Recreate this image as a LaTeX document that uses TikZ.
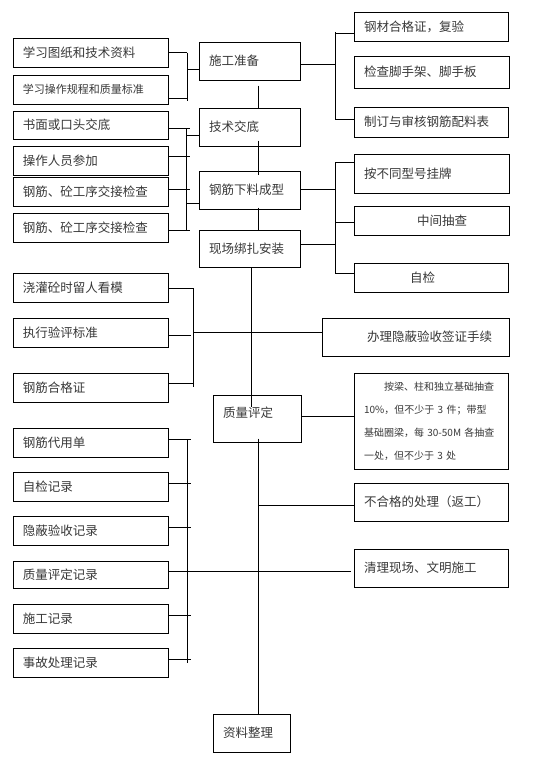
\documentclass[tikz,border=0pt]{standalone}
\usepackage{fontspec}
\setmainfont{Noto Sans CJK SC}
\usetikzlibrary{calc}
\newcommand{\mybox}[7][]{%
  \pgfmathsetmacro\mbW{#5-#3}%
  \pgfmathsetmacro\mbH{#6-#4}%
  \pgfmathsetmacro\mbX{(#3+#5)/2}%
  \pgfmathsetmacro\mbY{-(#4+#6)/2}%
  \pgfmathsetmacro\mbT{#5-#3-20}%
  \node[boxst, minimum width=\mbW pt, minimum height=\mbH pt, text width=\mbT pt, #1] (#2) at (\mbX pt,\mbY pt) {#7};%
}
\begin{document}
\begin{tikzpicture}[
  boxst/.style={draw=black, line width=1pt, align=left, inner xsep=10pt, inner ysep=0pt,
    font=\fontsize{12.5}{15}\selectfont, text=black!78},
  ln/.style={draw=black, line width=1pt}
]
\fill[white] (0,0) rectangle (554pt,-764pt);
\useasboundingbox (0,0) rectangle (554pt,-764pt);

% centre column
\mybox{s1}{199}{42}{300}{80}{施工准备}
\mybox{s2}{199}{108}{300}{146}{技术交底}
\mybox{s3}{199}{171}{300}{209}{钢筋下料成型}
\mybox{s4}{199}{230}{300}{267}{现场绑扎安装}
\mybox{s5}{213}{395}{301}{442}{\raisebox{13pt}{质量评定}}
\mybox{s6}{213}{714}{290}{752}{资料整理}

% left column
\mybox{l1}{13}{38}{168}{67}{学习图纸和技术资料}
\mybox[font=\fontsize{11}{13}\selectfont]{l2}{13}{75}{168}{104}{学习操作规程和质量标准}
\mybox{l3}{13}{111}{168}{139}{书面或口头交底}
\mybox{l4}{13}{146}{168}{175}{操作人员参加}
\mybox{l5}{13}{177}{168}{206}{钢筋、砼工序交接检查}
\mybox{l6}{13}{213}{168}{242}{钢筋、砼工序交接检查}
\mybox{l7}{13}{273}{168}{302}{浇灌砼时留人看模}
\mybox{l8}{13}{318}{168}{347}{执行验评标准}
\mybox{l9}{13}{373}{168}{402}{钢筋合格证}
\mybox{l10}{13}{428}{168}{457}{钢筋代用单}
\mybox{l11}{13}{472}{168}{501}{自检记录}
\mybox{l12}{13}{516}{168}{545}{隐蔽验收记录}
\mybox{l13}{13}{561}{168}{588}{质量评定记录}
\mybox{l14}{13}{604}{168}{633}{施工记录}
\mybox{l15}{13}{648}{168}{677}{事故处理记录}

% right column
\mybox{r1}{354}{12}{508}{41}{钢材合格证，复验}
\mybox{r2}{354}{56}{509}{88}{检查脚手架、脚手板}
\mybox{r3}{354}{107}{508}{137}{制订与审核钢筋配料表}
\mybox{r4}{354}{154}{509}{193}{按不同型号挂牌}
\mybox{r5}{354}{206}{509}{235}{\hspace*{53pt}中间抽查}
\mybox{r6}{354}{263}{508}{292}{\hspace*{46pt}自检}
\mybox{r7}{322}{318}{509}{356}{\hspace*{35pt}办理隐蔽验收签证手续}
\mybox[font=\fontsize{10}{23}\selectfont]{r8}{354}{373}{508}{469}{\hspace*{20pt}按梁、柱和独立基础抽查\\10\%，但不少于 3 件；带型\\基础圈梁，每 30-50M 各抽查\\一处，但不少于 3 处}
\mybox{r9}{354}{483}{508}{521}{不合格的处理（返工）}
\mybox{r10}{354}{549}{508}{587}{清理现场、文明施工}

% main vertical line
\draw[ln] ([xshift=8.5pt,yshift=-5pt]s1.south) -- ([xshift=8.5pt]s2.north);
\draw[ln] ([xshift=8.5pt,yshift=6pt]s2.south) -- ([xshift=8.5pt,yshift=-4pt]s3.north);
\draw[ln] ([xshift=8.5pt,yshift=2pt]s3.south) -- ([xshift=8.5pt]s4.north);
\draw[ln] ([xshift=1.5pt]s4.south) -- ([xshift=1.5pt,yshift=-12pt]s4.south |- s5.north);
\coordinate (mv) at ([xshift=1pt]s5.south);
\draw[ln] ([yshift=4pt]mv) -- (mv |- s6.north);

% group A
\coordinate (spA) at (187pt,0pt);
\draw[ln] (l1.east) -- (l1.east -| spA);
\draw[ln] ([yshift=-8.5pt]l2.east) -- ([yshift=-8.5pt]l2.east -| spA);
\draw[ln] (l1.east -| spA) -- ([yshift=-11.5pt]l2.east -| spA);
\draw[ln] ([yshift=-8pt]s1.west) -- ([yshift=-8pt]s1.west -| spA);

% group B
\coordinate (spB) at (186pt,0pt);
\draw[ln] ([yshift=-3pt]l3.east) -- ++(21pt,0);
\draw[ln] ([yshift=4.5pt]l4.east) -- ++(21pt,0);
\draw[ln] ([yshift=2.5pt]l5.east) -- ++(21pt,0);
\draw[ln] ([yshift=-2.5pt]l6.east) -- ++(21pt,0);
\draw[ln] ([yshift=-3pt]l3.east -| spB) -- ([yshift=-2.5pt]l6.east -| spB);
\draw[ln] ([yshift=-8pt]s2.west) -- ([yshift=-8pt]s2.west -| spB);
\draw[ln] ([yshift=-13pt]s3.west) -- ([yshift=-13pt]s3.west -| spB);

% group C
\coordinate (spC) at (335pt,0pt);
\draw[ln] ([yshift=-3pt]s1.east) -- ([yshift=-3pt]s1.east -| spC);
\draw[ln] ([yshift=-6.5pt]r1.west) -- ([yshift=-6.5pt]r1.west -| spC);
\draw[ln] ([yshift=3pt]r3.west) -- ([yshift=3pt]r3.west -| spC);
\draw[ln] ([yshift=-5.5pt]r1.west -| spC) -- ([yshift=3pt]r3.west -| spC);

% group D
\draw[ln] ([yshift=1pt]s3.east) -- ([yshift=1pt]s3.east -| spC);
\draw[ln] ([yshift=4.5pt]s4.east) -- ([yshift=4.5pt]s4.east -| spC);
\draw[ln] ([yshift=11.5pt]r4.west) -- ([yshift=11.5pt]r4.west -| spC);
\draw[ln] ([yshift=-1.5pt]r5.west) -- ([yshift=-1.5pt]r5.west -| spC);
\draw[ln] ([yshift=4.5pt]r6.west) -- ([yshift=4.5pt]r6.west -| spC);
\draw[ln] ([yshift=11.5pt]r4.west -| spC) -- ([yshift=4.5pt]r6.west -| spC);

% group E
\coordinate (spE) at (193pt,0pt);
\draw[ln] ([yshift=-0.5pt]l7.east) -- ([yshift=-0.5pt]l7.east -| spE);
\draw[ln] ([yshift=-2.5pt]l8.east) -- ++(22pt,0);
\draw[ln] ([yshift=4.5pt]l9.east) -- ([yshift=4.5pt]l9.east -| spE);
\draw[ln] ([yshift=-0.5pt]l7.east -| spE) -- ([yshift=0.5pt]l9.east -| spE);
\draw[ln] ([yshift=5pt]r7.west -| spE) -- ([yshift=5pt]r7.west);

% group F
\draw[ln] ([yshift=2.5pt]s5.east) -- ([yshift=2.5pt]s5.east -| r8.west);
\draw[ln] ([yshift=-3pt]r9.west -| mv) -- ([yshift=-3pt]r9.west);

% group G
\coordinate (spG) at (187pt,0pt);
\draw[ln] ([yshift=3.5pt]l10.east) -- ++(22pt,0);
\draw[ln] ([yshift=3.5pt]l11.east) -- ++(22pt,0);
\draw[ln] ([yshift=3.5pt]l12.east) -- ++(22pt,0);
\draw[ln] ([yshift=3.5pt]l14.east) -- ++(22pt,0);
\draw[ln] ([yshift=3.5pt]l15.east) -- ++(22pt,0);
\draw[ln] ([yshift=3.5pt]l10.east -| spG) -- ([yshift=-0.5pt]l15.east -| spG);
\draw[ln] ([yshift=3.5pt]l13.east) -- ([yshift=3.5pt,xshift=-3pt]l13.east -| r10.west);
\end{tikzpicture}
\end{document}
